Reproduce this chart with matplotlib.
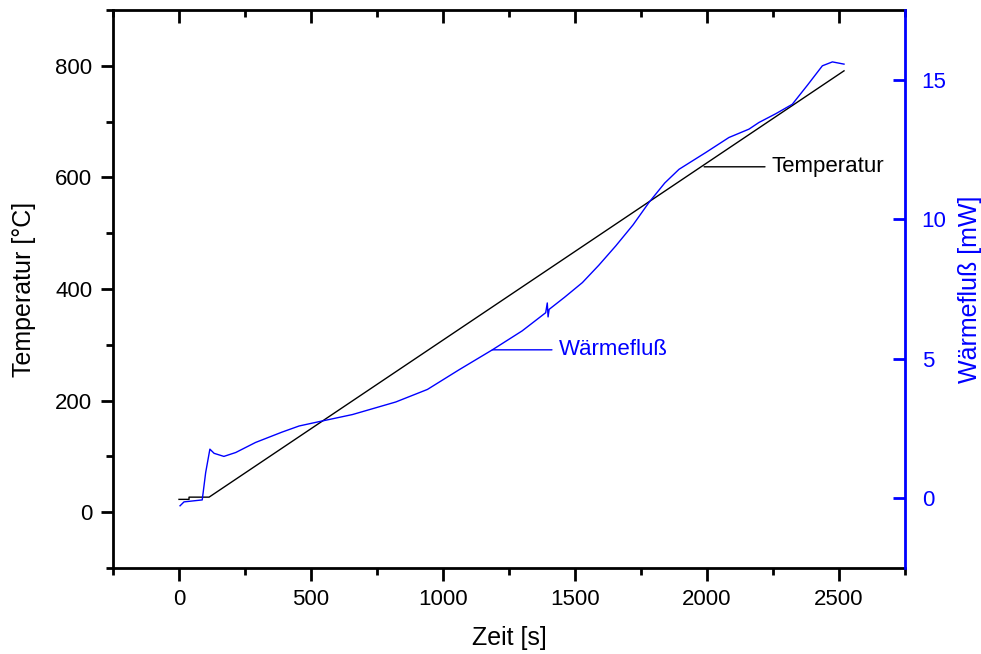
import matplotlib
matplotlib.use("Agg")
import matplotlib.pyplot as plt
from matplotlib.ticker import MultipleLocator

plt.rcParams["font.family"] = ["Liberation Sans", "DejaVu Sans"]

# Temperatur (linke Achse)
zeit_temp = [0, 38, 38, 114, 2519]
temperatur = [23, 23, 27, 27, 791]

# Wärmefluß (rechte Achse)
zeit_wf = [4, 19, 88, 101, 117, 133, 170, 215, 290, 390, 455, 518, 657, 821,
           941, 1060, 1187, 1300, 1389, 1395, 1398, 1402, 1460, 1528, 1590,
           1654, 1720, 1780, 1840, 1894, 1995, 2083, 2159, 2197, 2260, 2323,
           2380, 2437, 2475, 2519]
waermefluss = [-0.27, -0.13, -0.06, 0.92, 1.76, 1.61, 1.5, 1.64, 2.0, 2.37,
               2.59, 2.72, 3.0, 3.45, 3.9, 4.6, 5.32, 6.0, 6.65, 7.0, 6.5,
               6.77, 7.2, 7.73, 8.35, 9.04, 9.8, 10.6, 11.3, 11.79, 12.39,
               12.93, 13.23, 13.47, 13.78, 14.12, 14.8, 15.5, 15.64, 15.56]

blue = "#0000ff"
fs_tick = 16
fs_label = 18

fig = plt.figure(figsize=(9.81, 6.54), dpi=100)
ax = fig.add_axes([113 / 981, 86 / 654, 792 / 981, 558 / 654])
ax2 = ax.twinx()

ax.plot(zeit_temp, temperatur, color="black", lw=1)
ax2.plot(zeit_wf, waermefluss, color=blue, lw=1)

ax.set_xlim(-250, 2750)
ax.set_ylim(-100, 900)
ax2.set_ylim(-2.5, 17.5)

ax.xaxis.set_major_locator(MultipleLocator(500))
ax.xaxis.set_minor_locator(MultipleLocator(250))
ax.yaxis.set_major_locator(MultipleLocator(200))
ax.yaxis.set_minor_locator(MultipleLocator(100))
ax2.yaxis.set_major_locator(MultipleLocator(5))

ax.tick_params(axis="x", which="both", top=True, labeltop=False,
               labelsize=fs_tick, width=2, pad=6)
ax.tick_params(axis="y", which="both", right=False, labelsize=fs_tick,
               width=2, pad=6)
ax.tick_params(axis="both", which="major", length=9)
ax.tick_params(axis="both", which="minor", length=5)
ax2.tick_params(axis="y", which="major", direction="in", length=9, width=2,
                colors=blue, labelsize=fs_tick, pad=12)
# top ticks point inward
for t in ax.xaxis.get_major_ticks() + ax.xaxis.get_minor_ticks():
    t.tick2line.set_marker(3)

for sp in ("left", "bottom", "top"):
    ax.spines[sp].set_linewidth(2)
ax2.spines["right"].set_color(blue)
ax2.spines["right"].set_linewidth(2)
for sp in ("left", "bottom", "top"):
    ax2.spines[sp].set_visible(False)

ax.set_xlabel("Zeit [s]", fontsize=fs_label, labelpad=12)
ax.set_ylabel("Temperatur [°C]", fontsize=fs_label, labelpad=14)
ax2.set_ylabel("Wärmefluß [mW]", fontsize=fs_label, color=blue, labelpad=8)

ax.annotate("Temperatur", xy=(1989, 619), xytext=(2246, 619),
            fontsize=fs_tick, va="center", ha="left",
            arrowprops=dict(arrowstyle="-", color="black", lw=1,
                            shrinkA=3, shrinkB=0))
ax2.annotate("Wärmefluß", xy=(1187, 5.32), xytext=(1439, 5.32),
             fontsize=fs_tick, va="center", ha="left", color=blue,
             arrowprops=dict(arrowstyle="-", color=blue, lw=1,
                             shrinkA=3, shrinkB=0))

fig.savefig("out.png", dpi=100)
